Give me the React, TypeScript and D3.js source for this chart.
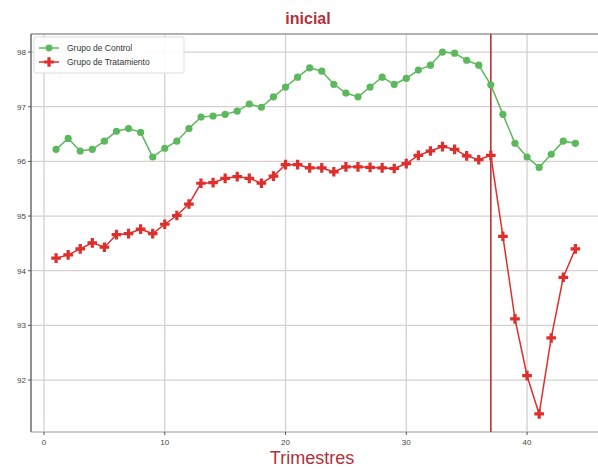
import React from "react";
import * as d3 from "d3";

const quarters = d3.range(1, 45);
const controlValues = [
  96.22, 96.42, 96.19, 96.22, 96.37, 96.55, 96.6, 96.53, 96.08, 96.24,
  96.37, 96.6, 96.81, 96.83, 96.86, 96.92, 97.05, 96.99, 97.18, 97.36,
  97.54, 97.71, 97.65, 97.41, 97.25, 97.18, 97.36, 97.54, 97.41, 97.52,
  97.67, 97.76, 98.0, 97.98, 97.85, 97.76, 97.4, 96.86, 96.33, 96.08,
  95.89, 96.13, 96.37, 96.33,
];
const treatmentValues = [
  94.23, 94.29, 94.4, 94.51, 94.43, 94.66, 94.68, 94.76, 94.68, 94.85,
  95.01, 95.22, 95.6, 95.61, 95.69, 95.72, 95.69, 95.6, 95.73, 95.94,
  95.94, 95.88, 95.88, 95.81, 95.9, 95.9, 95.89, 95.88, 95.87, 95.96,
  96.11, 96.19, 96.27, 96.22, 96.1, 96.03, 96.11, 94.63, 93.12, 92.08,
  91.38, 92.77, 93.88, 94.4,
];
const xTicks = [0, 10, 20, 30, 40];
const yTicks = [92, 93, 94, 95, 96, 97, 98];
const interventionQuarter = 37;
const titleText = "inicial";
const xLabel = "Trimestres";
const seriesNames = ["Grupo de Control", "Grupo de Tratamiento"];

const W = 598;
const H = 469;
const left = 31;
const right = 614;
const top = 34;
const bottom = 432;

export default function App() {
  const x = d3.scaleLinear().domain([-1.077, 47.2]).range([left, right]);
  const y = d3.scaleLinear().domain([91.05, 98.33]).range([bottom, top]);
  const line = d3
    .line<[number, number]>()
    .x((d) => x(d[0]))
    .y((d) => y(d[1]));
  const ctrl: [number, number][] = quarters.map((q, i) => [q, controlValues[i]]);
  const trt: [number, number][] = quarters.map((q, i) => [q, treatmentValues[i]]);
  const green = "#5cb85c";
  const red = "#de2f2c";
  const marker = d3.symbol().type(d3.symbolCross).size(52)() as string;
  const gridColor = "#d6d0d0";
  return (
    <svg
      width={W}
      height={H}
      style={{ position: "absolute", left: 0, top: 0, background: "#fff" }}
      fontFamily="Liberation Sans, Arial, sans-serif"
    >
      <defs>
        <clipPath id="plot">
          <rect x={left} y={top} width={right - left} height={bottom - top} />
        </clipPath>
      </defs>
      {xTicks.map((t) => (
        <line key={"gx" + t} x1={x(t)} x2={x(t)} y1={top} y2={bottom} stroke={gridColor} strokeWidth={1.3} />
      ))}
      {yTicks.map((t) => (
        <line key={"gy" + t} x1={left} x2={right} y1={y(t)} y2={y(t)} stroke={gridColor} strokeWidth={1.3} />
      ))}
      <line x1={left} x2={right} y1={top} y2={top} stroke="#999" strokeWidth={1.3} />
      <line x1={left} x2={right} y1={bottom} y2={bottom} stroke="#bbb" strokeWidth={1.3} />
      <line x1={left} x2={left} y1={top} y2={bottom} stroke="#555" strokeWidth={1.3} />
      {yTicks.map((t) => (
        <g key={"ty" + t}>
          <line x1={left - 3} x2={left} y1={y(t)} y2={y(t)} stroke="#555" />
          <text x={left - 5} y={y(t)} dy="0.35em" textAnchor="end" fontSize={8} fill="#444">
            {t}
          </text>
        </g>
      ))}
      {xTicks.map((t) => (
        <g key={"tx" + t}>
          <line x1={x(t)} x2={x(t)} y1={bottom} y2={bottom + 3} stroke="#555" />
          <text x={x(t)} y={bottom + 13} textAnchor="middle" fontSize={8} fill="#444">
            {t}
          </text>
        </g>
      ))}
      <g clipPath="url(#plot)">
        <line
          x1={x(interventionQuarter)}
          x2={x(interventionQuarter)}
          y1={top}
          y2={bottom}
          stroke="#b93538"
          strokeWidth={1.6}
        />
        <path d={line(ctrl) || ""} fill="none" stroke={green} strokeWidth={1.5} />
        {ctrl.map((d, i) => (
          <circle key={"c" + i} cx={x(d[0])} cy={y(d[1])} r={3.6} fill={green} />
        ))}
        <path d={line(trt) || ""} fill="none" stroke={red} strokeWidth={1.5} />
        {trt.map((d, i) => (
          <path key={"t" + i} d={marker} transform={`translate(${x(d[0])},${y(d[1])})`} fill={red} />
        ))}
      </g>
      <rect x={34} y={37} width={150} height={36} rx={2} fill="#fff" fillOpacity={0.9} stroke="#ddd" />
      <line x1={39} x2={59} y1={48} y2={48} stroke={green} strokeWidth={1.5} />
      <circle cx={49} cy={48} r={3.4} fill={green} />
      <text x={67} y={48} dy="0.35em" fontSize={8.5} fill="#333">
        {seriesNames[0]}
      </text>
      <line x1={39} x2={59} y1={62} y2={62} stroke={red} strokeWidth={1.5} />
      <path d={marker} transform="translate(49,62)" fill={red} />
      <text x={67} y={62} dy="0.35em" fontSize={8.5} fill="#333">
        {seriesNames[1]}
      </text>
      <text x={308} y={24} textAnchor="middle" fontSize={16} fontWeight="bold" fill="#b0323a">
        {titleText}
      </text>
      <text x={312} y={464} textAnchor="middle" fontSize={18} fill="#b0323a">
        {xLabel}
      </text>
    </svg>
  );
}
